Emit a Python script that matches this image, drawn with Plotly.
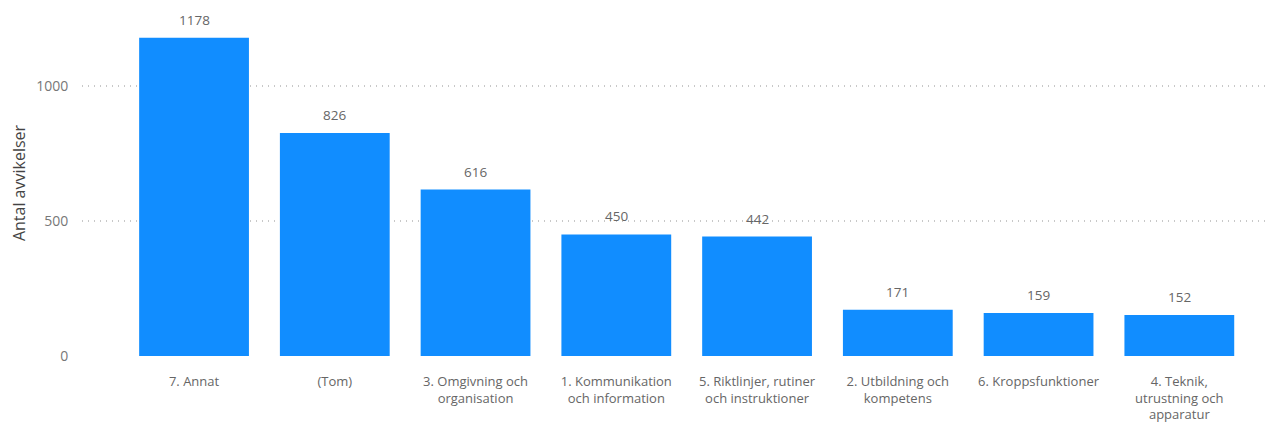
import plotly.graph_objects as go

categories = ["7. Annat", "(Tom)", "3. Omgivning och<br>organisation", "1. Kommunikation<br>och information",
              "5. Riktlinjer, rutiner<br>och instruktioner", "2. Utbildning och<br>kompetens",
              "6. Kroppsfunktioner", "4. Teknik,<br>utrustning och<br>apparatur"]
values = [1178, 826, 616, 450, 442, 171, 159, 152]
y_ticks = [0, 500, 1000]

xs = list(range(len(categories)))
fig = go.Figure(go.Bar(
    x=xs, y=values,
    marker=dict(color="#118DFF", line=dict(width=0)),
    width=0.78,
))
for x, v in zip(xs, values):
    fig.add_annotation(x=x, y=v, text=str(v), showarrow=False, yanchor="bottom", yshift=7,
                       font=dict(color="#666666", size=13.5, family="Open Sans"))
fig.update_layout(
    width=1279, height=430,
    margin=dict(l=74, r=19, t=2, b=82),
    plot_bgcolor="white", paper_bgcolor="white",
    font=dict(family="Open Sans", color="#666666", size=12),
    showlegend=False, bargap=0.2,
)
fig.update_xaxes(
    tickmode="array", tickvals=xs, ticktext=categories,
    range=[-0.796, 7.63], showgrid=False, zeroline=False, showline=False, automargin=False,
    tickfont=dict(size=13, color="#666666"), ticks="outside", ticklen=13, tickcolor="white",
)
fig.update_yaxes(
    range=[0, 1281], tickvals=y_ticks, showgrid=True, automargin=False,
    gridcolor="#C8C8C8", griddash="1px,5px", gridwidth=1.5, zeroline=False,
    tickfont=dict(size=14, color="#777777"), ticks="outside", ticklen=10, tickcolor="white",
    title=dict(text="Antal avvikelser", font=dict(size=16, color="#444444"), standoff=14),
)
fig.write_html("out.html")
